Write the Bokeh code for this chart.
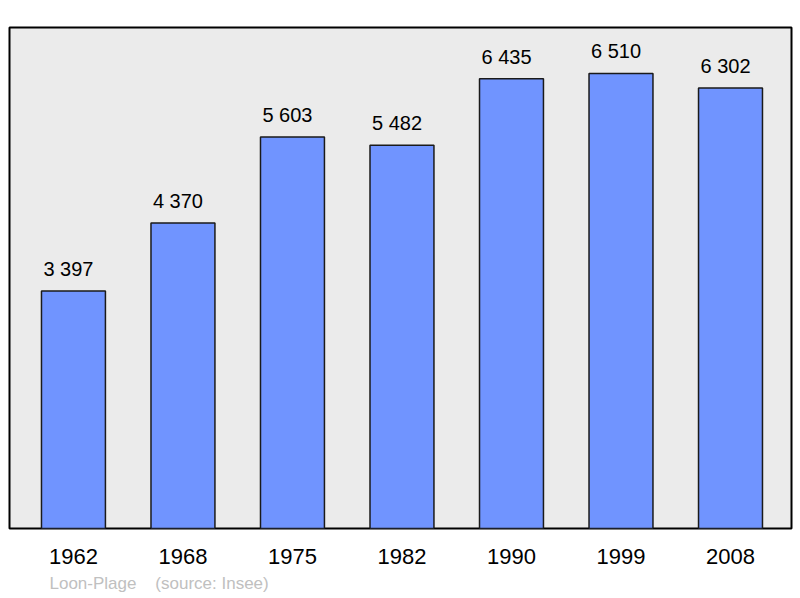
from bokeh.plotting import figure
from bokeh.models import ColumnDataSource, Range1d, LabelSet, Title, FixedTicker
from bokeh.core.properties import value
from bokeh.embed import file_html
from bokeh.resources import INLINE

years = ["1962", "1968", "1975", "1982", "1990", "1999", "2008"]
population = [3397, 4370, 5603, 5482, 6435, 6510, 6302]
value_labels = [f"{v:,}".replace(",", " ") for v in population]
place = "Loon-Plage"
source_note = "(source: Insee)"

idx = list(range(len(years)))
src = ColumnDataSource(dict(x=idx, top=population, lab=value_labels))

p = figure(width=800, height=598, output_backend="svg", toolbar_location=None,
           x_range=Range1d(-0.584, 6.557), y_range=Range1d(0, 7168),
           min_border_left=9, min_border_right=9, min_border_top=27, min_border_bottom=70)
p.background_fill_color = "#ebebeb"
p.border_fill_color = "white"
p.outline_line_color = "black"
p.outline_line_width = 2
p.grid.visible = False
p.yaxis.visible = False

p.vbar(x="x", top="top", bottom=0, width=0.584, source=src,
       fill_color="#7094ff", line_color="#1a1a1a", line_width=1.5)

p.add_layout(LabelSet(x="x", y="top", text="lab", source=src, text_align="center",
                      text_baseline="alphabetic", y_offset=15, x_offset=-5,
                      text_font_size="20px",
                      text_font=value("Liberation Sans"), text_color="black"))

ax = p.xaxis[0]
ax.ticker = FixedTicker(ticks=idx)
ax.major_label_overrides = {i: y for i, y in zip(idx, years)}
ax.axis_line_color = None
ax.major_tick_line_color = None
ax.minor_tick_line_color = None
ax.major_label_text_font = "Liberation Sans"
ax.major_label_text_font_size = "22px"
ax.major_label_text_color = "black"
ax.major_label_standoff = 14

footer = place + "\u00a0\u00a0\u00a0\u00a0" + source_note
p.add_layout(Title(text=footer, align="left", offset=40, text_font="Liberation Sans",
                   text_font_size="17px", text_font_style="normal",
                   text_color="#c0c0c0", standoff=10), "below")

open("out.html", "w").write(file_html(p, INLINE))
